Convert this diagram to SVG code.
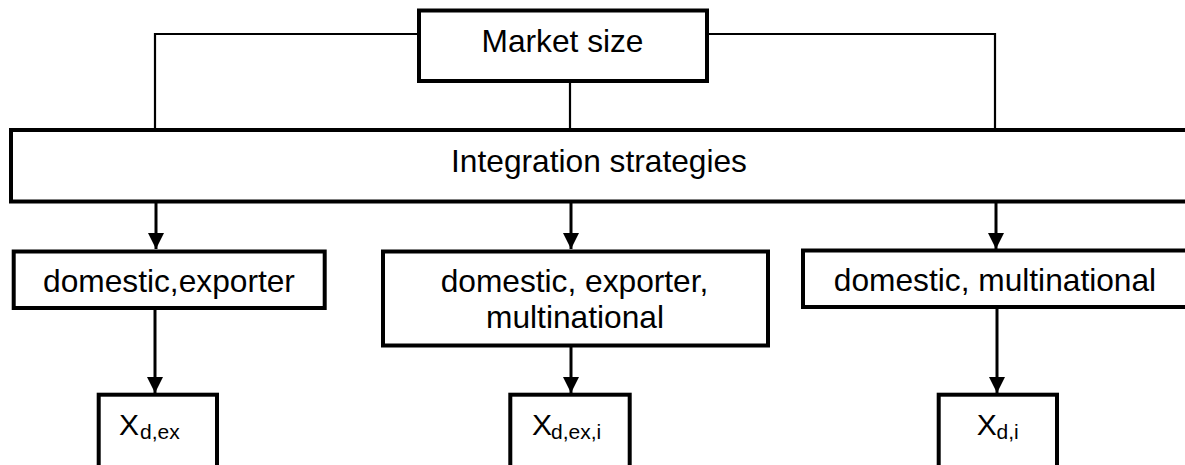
<svg xmlns="http://www.w3.org/2000/svg" width="1185" height="465" viewBox="0 0 1185 465">
<style>
.box{fill:#fff;stroke:#000;stroke-width:4}
.ln{fill:none;stroke:#000;stroke-width:2.2}
.ar{fill:none;stroke:#000;stroke-width:3}
.t{font-family:"Liberation Sans",Arial,sans-serif;font-size:31.7px;fill:#000;text-anchor:middle}
.x{font-family:"Liberation Sans",Arial,sans-serif;font-size:30px;fill:#000}
.s{font-size:21px}
</style>
<defs>
<marker id="ah" markerUnits="userSpaceOnUse" markerWidth="16" markerHeight="16" refX="16" refY="8" orient="auto">
<path d="M0,0 L16,8 L0,16 z" fill="#000"/>
</marker>
</defs>
<rect width="1185" height="465" fill="#fff"/>
<g id="connectors">
<path class="ln" d="M419,34 H155 V130"/>
<path class="ln" d="M707,34 H995 V130"/>
<path class="ln" d="M570,81 V130"/>
<path class="ar" d="M156,203 V249" marker-end="url(#ah)"/>
<path class="ar" d="M571,203 V249" marker-end="url(#ah)"/>
<path class="ar" d="M996,203 V249" marker-end="url(#ah)"/>
<path class="ar" d="M155,310 V393" marker-end="url(#ah)"/>
<path class="ar" d="M571,347 V393" marker-end="url(#ah)"/>
<path class="ar" d="M997,309 V393" marker-end="url(#ah)"/>
</g>
<g id="market-size">
<rect class="box" x="419" y="10.5" width="288" height="70.5"/>
<text class="t" x="562.5" y="51.7">Market size</text>
</g>
<g id="integration-strategies">
<rect class="box" x="11" y="130" width="1200" height="71.5"/>
<text class="t" x="599" y="171.7">Integration strategies</text>
</g>
<g id="domestic-exporter">
<rect class="box" x="13.7" y="251.5" width="311" height="56.5"/>
<text class="t" x="169" y="292.3">domestic,exporter</text>
</g>
<g id="domestic-exporter-multinational">
<rect class="box" x="383" y="251.5" width="385" height="94"/>
<text class="t" x="574.5" y="292">domestic, exporter,</text>
<text class="t" x="575" y="328.3">multinational</text>
</g>
<g id="domestic-multinational">
<rect class="box" x="803" y="250.5" width="420" height="56.5"/>
<text class="t" x="995" y="290.7">domestic, multinational</text>
</g>
<g id="x-d-ex">
<rect class="box" x="98.7" y="394.7" width="118.3" height="100"/>
<text class="x" x="119" y="435">X<tspan class="s" x="140" y="439">d,ex</tspan></text>
</g>
<g id="x-d-ex-i">
<rect class="box" x="510.3" y="394.7" width="119.4" height="100"/>
<text class="x" x="532" y="435">X<tspan class="s" x="551" y="439">d,ex,i</tspan></text>
</g>
<g id="x-d-i">
<rect class="box" x="938.7" y="394.7" width="118.3" height="100"/>
<text class="x" x="976.7" y="435">X<tspan class="s" x="996.5" y="439">d,i</tspan></text>
</g>
</svg>
